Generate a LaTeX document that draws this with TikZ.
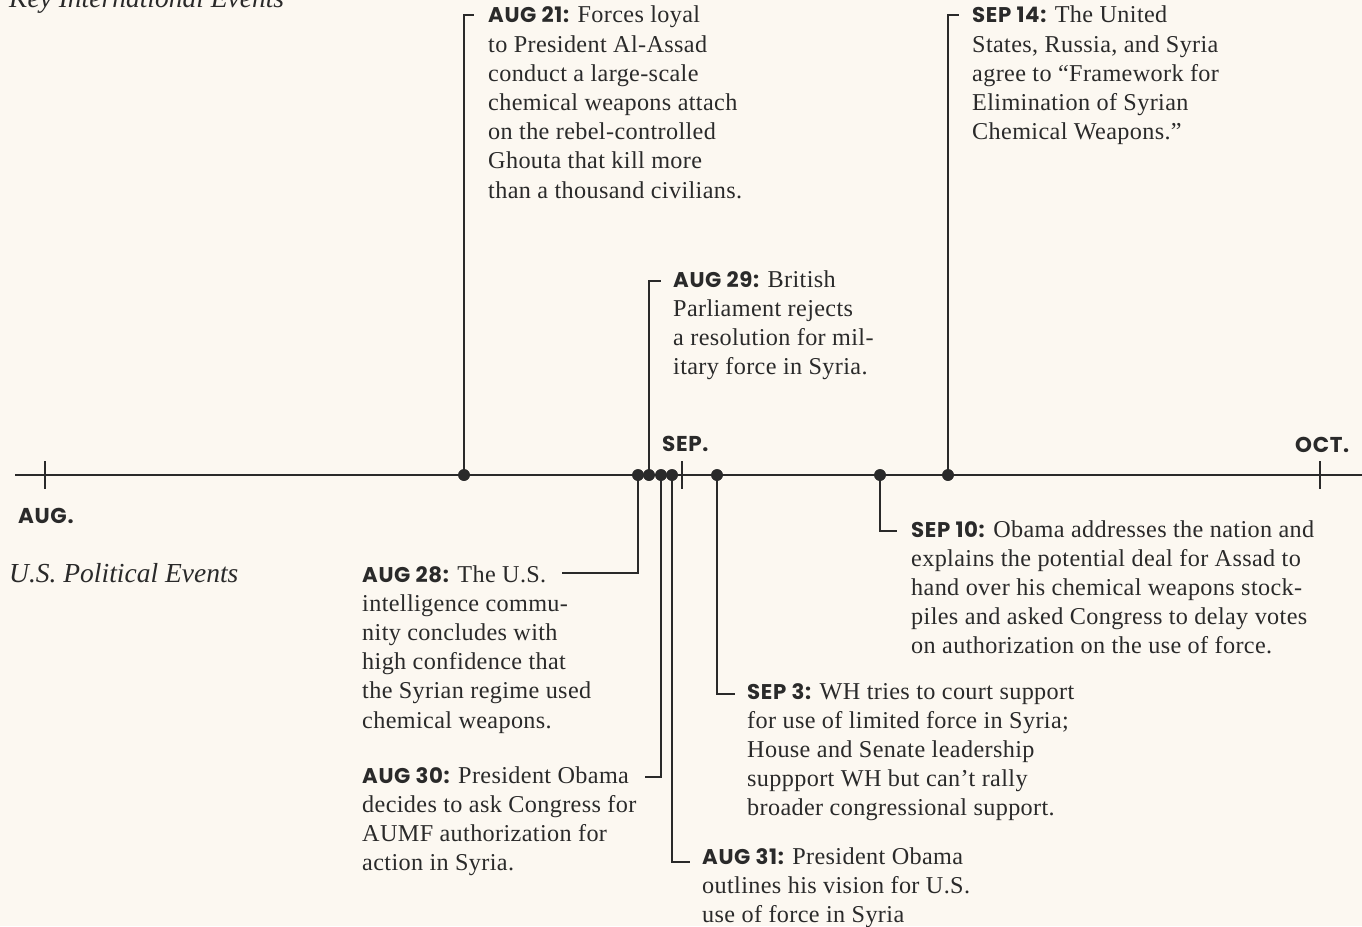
\documentclass[tikz,border=0pt]{standalone}
\usepackage{fontspec}
\setmainfont[LetterSpace=1.5]{Liberation Serif}
\newfontfamily\headfont{Liberation Serif}
\newfontfamily\labfont[LetterSpace=3]{Poppins}
\definecolor{bg}{HTML}{FCF8F1}
\definecolor{ink}{HTML}{2A2A2A}
\newcommand{\lb}[1]{{\labfont\bfseries\fontsize{21.3}{21.3}\selectfont #1}}
\newcommand{\evtxt}[1]{\begin{tabular}[t]{@{}l@{}}#1\end{tabular}}
\begin{document}
\begin{tikzpicture}[x=1pt,y=-1pt,
  body/.style={anchor=base west, inner sep=0pt, text=ink, font=\fontsize{24.2}{29.2}\selectfont},
  month/.style={anchor=base west, inner sep=0pt, text=ink, font=\labfont\bfseries\fontsize{21.5}{21.5}\selectfont},
  heading/.style={anchor=base west, inner sep=0pt, text=ink, font=\headfont\itshape\fontsize{27.5}{30}\selectfont},
  conn/.style={draw=ink, line width=2.9pt, line join=miter, line cap=butt},
  dot/.style={circle, fill=ink, inner sep=0pt, minimum size=11.6pt}]
\fill[bg] (0,0) rectangle (1362,926);
\useasboundingbox (0,0) rectangle (1362,926);

% headings
\node[heading] (kie) at (9,8) {Key International Events};
\node[heading] (usp) at (9,582) {U.S. Political Events};

% axis
\coordinate (axL) at (15,475);
\coordinate (axR) at (1362,475);
\draw[conn] (axL) -- (axR);
\coordinate (tAa) at (45,461); \coordinate (tAb) at (45,489);
\coordinate (tSa) at (682,461); \coordinate (tSb) at (682,489);
\coordinate (tOa) at (1320,461); \coordinate (tOb) at (1320,489);
\draw[conn] (tAa) -- (tAb);
\draw[conn] (tSa) -- (tSb);
\draw[conn] (tOa) -- (tOb);
\node[month] (mAug) at (18,523) {AUG.};
\node[month] (mSep) at (662,451) {SEP.};
\node[month] (mOct) at (1295,452) {OCT.};

% dots (positions)
\node[dot] (d21) at (464,475) {};
\node[dot] (d28) at (638,475) {};
\node[dot] (d29) at (649,475) {};
\node[dot] (d30) at (661,475) {};
\node[dot] (d31) at (672,475) {};
\node[dot] (d3) at (717,475) {};
\node[dot] (d10) at (880,475) {};
\node[dot] (d14) at (948,475) {};

% connector corners
\coordinate (c21) at (464,15); \coordinate (e21) at (474,15);
\coordinate (c29) at (649,281); \coordinate (e29) at (661,281);
\coordinate (c14) at (948,15); \coordinate (e14) at (959,15);
\coordinate (c28) at (638,573); \coordinate (e28) at (562,573);
\coordinate (c30) at (661,777); \coordinate (e30) at (645,777);
\coordinate (c31) at (672,862); \coordinate (e31) at (690,862);
\coordinate (c3) at (717,694); \coordinate (e3) at (735,694);
\coordinate (c10) at (880,531); \coordinate (e10) at (897,531);

\draw[conn] (d21.center) -- (c21) -- (e21);
\draw[conn] (d29.center) -- (c29) -- (e29);
\draw[conn] (d14.center) -- (c14) -- (e14);
\draw[conn] (d28.center) -- (c28) -- (e28);
\draw[conn] (d30.center) -- (c30) -- (e30);
\draw[conn] (d31.center) -- (c31) -- (e31);
\draw[conn] (d3.center) -- (c3) -- (e3);
\draw[conn] (d10.center) -- (c10) -- (e10);
% dots on top of the connectors
\foreach \d in {d21,d28,d29,d30,d31,d3,d10,d14} {\fill[ink] (\d.center) circle (5.8pt);}

% texts
\node[body] (t21) at (488,23) {\evtxt{\lb{AUG 21:} Forces loyal\\ to President Al-Assad\\ conduct a large-scale\\ chemical weapons attach\\ on the rebel-controlled\\ Ghouta that kill more\\ than a thousand civilians.}};
\node[body] (t14) at (972,23) {\evtxt{\lb{SEP 14:} The United\\ States, Russia, and Syria\\ agree to “Framework for\\ Elimination of Syrian\\ Chemical Weapons.”}};
\node[body] (t29) at (673,287) {\evtxt{\lb{AUG 29:} British\\ Parliament rejects\\ a resolution for mil-\\ itary force in Syria.}};
\node[body] (t10) at (911,537) {\evtxt{\lb{SEP 10:} Obama addresses the nation and\\ explains the potential deal for Assad to\\ hand over his chemical weapons stock-\\ piles and asked Congress to delay votes\\ on authorization on the use of force.}};
\node[body] (t28) at (362,582) {\evtxt{\lb{AUG 28:} The U.S.\\ intelligence commu-\\ nity concludes with\\ high confidence that\\ the Syrian regime used\\ chemical weapons.}};
\node[body] (t30) at (362,783) {\evtxt{\lb{AUG 30:} President Obama\\ decides to ask Congress for\\ AUMF authorization for\\ action in Syria.}};
\node[body] (t3) at (747,699) {\evtxt{\lb{SEP 3:} WH tries to court support\\ for use of limited force in Syria;\\ House and Senate leadership\\ suppport WH but can’t rally\\ broader congressional support.}};
\node[body] (t31) at (702,864) {\evtxt{\lb{AUG 31:} President Obama\\ outlines his vision for U.S.\\ use of force in Syria}};
\end{tikzpicture}
\end{document}
